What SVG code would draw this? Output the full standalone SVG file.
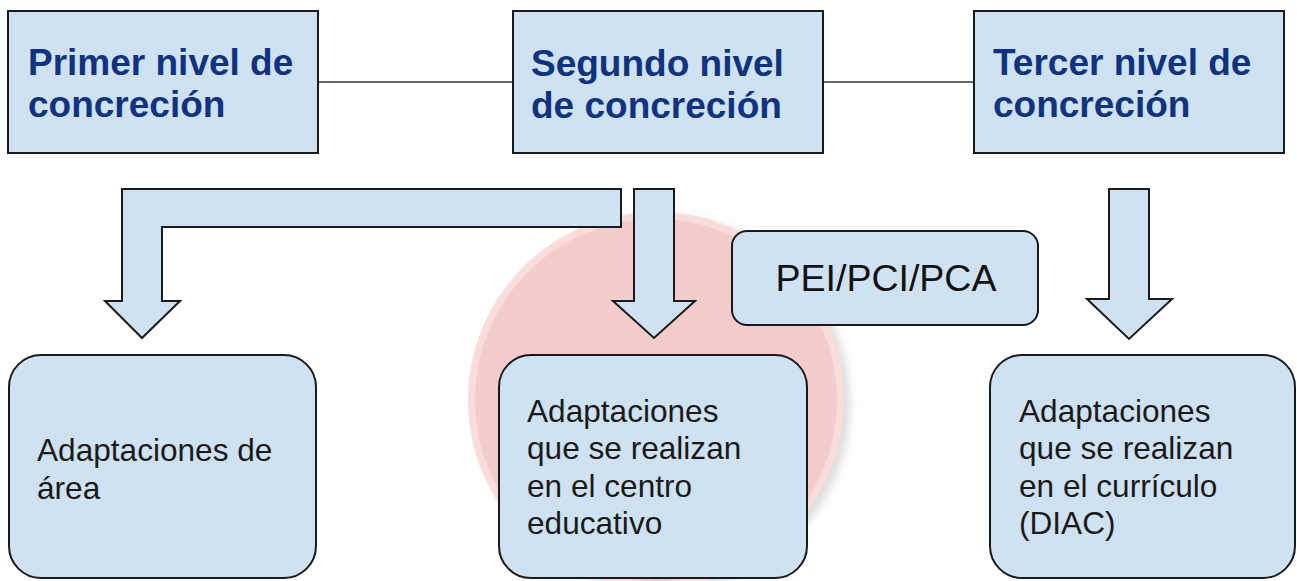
<svg xmlns="http://www.w3.org/2000/svg" width="1297" height="581" viewBox="0 0 1297 581">
<defs>
<style>
.box{fill:#cfe2f3;stroke:#1a1a1a;stroke-width:2}
.arrow{fill:#cfe2f3;stroke:#1a1a1a;stroke-width:2;stroke-linejoin:miter}
.conn{stroke:#333;stroke-width:1.5;fill:none}
.title{font-family:"Liberation Sans",Arial,sans-serif;font-weight:bold;font-size:37px;fill:#0f3380}
.body{font-family:"Liberation Sans",Arial,sans-serif;font-size:31.6px;fill:#1a1a1a}
.big{font-family:"Liberation Sans",Arial,sans-serif;font-size:37.5px;fill:#111}
</style>
<filter id="soft" x="-20%" y="-20%" width="140%" height="140%">
<feGaussianBlur stdDeviation="4"/>
</filter>
</defs>
<rect width="1297" height="581" fill="#ffffff"/>
<g id="circle">
<circle cx="662" cy="404" r="188" fill="#bbbbbb" opacity="0.5" filter="url(#soft)"/>
<circle cx="656" cy="400" r="188" fill="#f9dcdc"/>
<circle cx="656" cy="400" r="181" fill="#f4cccc"/>
</g>
<g id="connectors">
<line class="conn" x1="318" y1="82" x2="513" y2="82"/>
<line class="conn" x1="823" y1="82" x2="974" y2="82"/>
</g>
<g id="arrows">
<path id="arrow-left" class="arrow" d="M621,189 L122,189 L122,301 L105,301 L142,338 L180,301 L162,301 L162,227 L621,227 Z"/>
<path id="arrow-mid" class="arrow" d="M634,189 L674,189 L674,301 L695,301 L654,338 L613,301 L634,301 Z"/>
<path id="arrow-right" class="arrow" d="M1109,189 L1149,189 L1149,299 L1172,299 L1129,339 L1087,299 L1109,299 Z"/>
</g>
<g id="node-primer">
<rect class="box" x="8" y="11" width="310" height="142"/>
<text class="title" x="28" y="75">Primer nivel de</text>
<text class="title" x="28" y="117">concreción</text>
</g>
<g id="node-segundo">
<rect class="box" x="513" y="11" width="310" height="142"/>
<text class="title" x="531" y="76">Segundo nivel</text>
<text class="title" x="531" y="118">de concreción</text>
</g>
<g id="node-tercer">
<rect class="box" x="974" y="11" width="310" height="142"/>
<text class="title" x="993" y="75">Tercer nivel de</text>
<text class="title" x="993" y="117">concreción</text>
</g>
<g id="node-pei">
<rect class="box" x="732" y="231" width="306" height="94" rx="15"/>
<text class="big" x="886" y="291" text-anchor="middle">PEI/PCI/PCA</text>
</g>
<g id="node-area">
<rect class="box" x="9" y="355" width="307" height="223" rx="32"/>
<text class="body" x="37" y="461">Adaptaciones de</text>
<text class="body" x="37" y="499">área</text>
</g>
<g id="node-centro">
<rect class="box" x="499" y="355" width="308" height="223" rx="32"/>
<text class="body" x="527" y="422">Adaptaciones</text>
<text class="body" x="527" y="459">que se realizan</text>
<text class="body" x="527" y="497">en el centro</text>
<text class="body" x="527" y="534">educativo</text>
</g>
<g id="node-curriculo">
<rect class="box" x="990" y="355" width="305" height="223" rx="32"/>
<text class="body" x="1019" y="422">Adaptaciones</text>
<text class="body" x="1019" y="459">que se realizan</text>
<text class="body" x="1019" y="497">en el currículo</text>
<text class="body" x="1019" y="534">(DIAC)</text>
</g>
</svg>
